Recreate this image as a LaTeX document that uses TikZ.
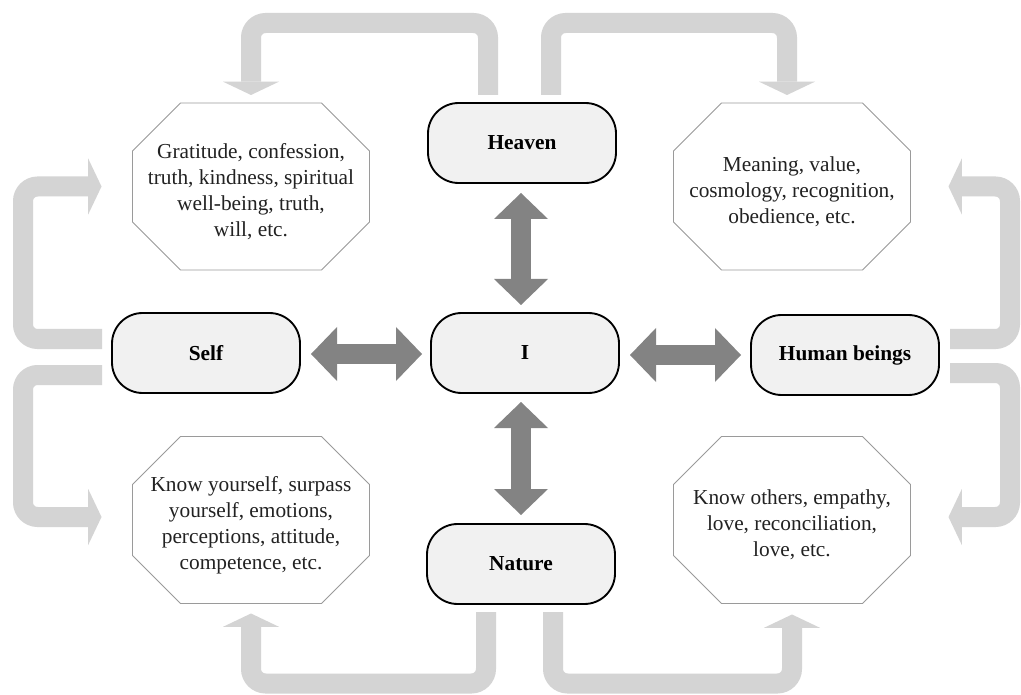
\documentclass[tikz,border=0pt]{standalone}
\usepackage{fontspec}
\setmainfont{Liberation Serif}
\usetikzlibrary{arrows.meta,calc}
\definecolor{lightarr}{HTML}{D4D4D4}
\definecolor{darkarr}{HTML}{838383}
\definecolor{boxfill}{HTML}{F1F1F1}
\definecolor{octline}{HTML}{9A9A9A}
\definecolor{txt}{HTML}{222222}
\begin{document}
\begin{tikzpicture}[x=0.75pt,y=-0.75pt,
  mainbox/.style={draw=black, line width=1.4pt, fill=boxfill, rounded corners=23pt,
    minimum width=141pt, minimum height=60pt, inner sep=0pt, outer sep=0pt,
    font=\fontsize{16}{19.5}\selectfont\bfseries, text=black},
  octbox/.style={minimum width=177.75pt, minimum height=125.25pt, inner sep=0pt, outer sep=0pt,
    align=center, font=\fontsize{16}{19.5}\selectfont, text=txt},
  octframe/.style={draw=octline, line width=0.7pt},
  lightarrow/.style={draw=lightarr, line width=15pt, rounded corners=11pt,
    -{Triangle[width=42pt,length=10pt,line width=0pt,fill=lightarr]}},
  darkarrow/.style={draw=darkarr, line width=15pt,
    {Triangle[width=40.5pt,length=19.5pt,line width=0pt]}-{Triangle[width=40.5pt,length=19.5pt,line width=0pt]}},
]
\useasboundingbox[fill=white] (0,0) rectangle (1021,695);

% main nodes
\node[mainbox] (heaven) at (522,143) {Heaven};
\node[mainbox] (me) at (525,353) {I};
\node[mainbox] (self) at (206,353) {Self};
\node[mainbox] (human) at (845,355) {Human beings};
\node[mainbox] (nature) at (521,564) {Nature};

% octagons (text sits 5px below the octagon centre)
\node[octbox] (o1) at (251,191.5) {Gratitude, confession,\\truth, kindness, spiritual\\well-being, truth,\\will, etc.};
\node[octbox] (o2) at (792,191.5) {Meaning, value,\\cosmology, recognition,\\obedience, etc.};
\node[octbox] (o3) at (251,525) {Know yourself, surpass\\yourself, emotions,\\perceptions, attitude,\\competence, etc.};
\node[octbox] (o4) at (792,525) {Know others, empathy,\\love, reconciliation,\\love, etc.};
\foreach \o in {o1,o2,o3,o4}
  \draw[octframe] ($(\o.north west)+(48,-5)$) -- ($(\o.north east)+(-48,-5)$)
    -- ($(\o.north east)+(0,43)$) -- ($(\o.south east)+(0,-53)$)
    -- ($(\o.south east)+(-48,-5)$) -- ($(\o.south west)+(48,-5)$)
    -- ($(\o.south west)+(0,-53)$) -- ($(\o.north west)+(0,43)$) -- cycle;

% light feedback arrows
\draw[lightarrow] ($(heaven.north)+(-34,-8)$) |- ($(o1.north)+(0,-85)$) -- ($(o1.north)+(0,-13)$);
\draw[lightarrow] ($(heaven.north)+(29,-8)$) |- ($(o2.north)+(-5,-85)$) -- ($(o2.north)+(-5,-13)$);
\draw[lightarrow] ($(self.west)+(-10,-14)$) -- ($(self.west)+(-89,-14)$) |- ($(o1.west)+(-31,-5)$);
\draw[lightarrow] ($(self.west)+(-10,22)$) -- ($(self.west)+(-89,22)$) |- ($(o3.west)+(-31,-8)$);
\draw[lightarrow] ($(nature.south)+(-35,8)$) |- ($(o3.south)+(0,75)$) -- ($(o3.south)+(0,5)$);
\draw[lightarrow] ($(nature.south)+(32,8)$) |- ($(o4.south)+(0,75)$) -- ($(o4.south)+(0,6)$);
\draw[lightarrow] ($(human.east)+(11,-16)$) -- ($(human.east)+(71,-16)$) |- ($(o2.east)+(38,-5)$);
\draw[lightarrow] ($(human.east)+(11,18)$) -- ($(human.east)+(71,18)$) |- ($(o4.east)+(38,-8)$);

% dark double arrows
\draw[darkarrow] ($(heaven.south)+(-1,10)$) -- ($(me.north)+(-4,-8)$);
\draw[darkarrow] ($(self.east)+(11,1)$) -- ($(me.west)+(-9,1)$);
\draw[darkarrow] ($(me.east)+(11,2)$) -- ($(human.west)+(-10,0)$);
\draw[darkarrow] ($(me.south)+(-4,9)$) -- ($(nature.north)+(0,-9)$);
\end{tikzpicture}
\end{document}
